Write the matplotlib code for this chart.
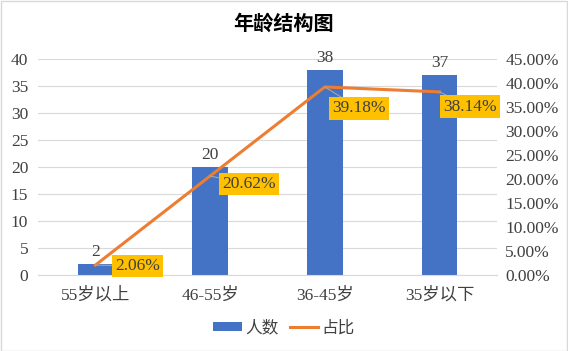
import matplotlib.pyplot as plt
import numpy as np
from matplotlib.ticker import PercentFormatter

categories = ["55岁以上", "46-55岁", "36-45岁", "35岁以下"]
counts = [2, 20, 38, 37]
shares = [2.06, 20.62, 39.18, 38.14]

plt.rcParams['font.family'] = ['Liberation Serif', 'Noto Sans CJK SC']

BLUE = "#4472C4"
ORANGE = "#ED7D31"
GRID = "#D9D9D9"
TXT = "#404040"
FS = 12.5

fig = plt.figure(figsize=(5.68, 3.51), dpi=100)
ax = fig.add_axes([0.0669, 0.2165, 0.808, 0.6154])
ax2 = ax.twinx()

x = np.arange(len(categories))
bars = ax.bar(x, counts, width=0.31, color=BLUE, label="人数", zorder=2)
ax.set_xlim(-0.5, len(categories) - 0.5)
ax.set_ylim(0, 40)
ax.set_yticks(range(0, 41, 5))
ax.grid(axis="y", color=GRID, linewidth=0.8, zorder=0)
ax.set_axisbelow(True)
ax.set_xticks(x)
ax.set_xticklabels(categories)
ax.tick_params(axis="both", length=0, labelsize=FS, colors=TXT, pad=7)
ax.tick_params(axis="x", pad=9)
for s in ["top", "left", "right"]:
    ax.spines[s].set_visible(False)
ax.spines["bottom"].set_color(GRID)

for xi, c in zip(x, counts):
    ax.text(xi, c + 0.7, str(c), ha="center", va="bottom", fontsize=FS, color=TXT)

line, = ax2.plot(x, shares, color=ORANGE, linewidth=2.2, label="占比", zorder=3)
ax2.set_ylim(0, 45)
ax2.set_yticks(range(0, 46, 5))
ax2.yaxis.set_major_formatter(PercentFormatter(decimals=2))
ax2.tick_params(axis="y", length=0, labelsize=FS, colors=TXT, pad=6)
for s in ["top", "left", "right", "bottom"]:
    ax2.spines[s].set_visible(False)

# label offsets (points) from each line point to the text's left edge
offsets = [(14.4, -0.5), (8.4, -5.8), (5.5, -15.5), (2.6, -10.5)]
for xi, v, (dx, dy) in zip(x, shares, offsets):
    ax2.annotate(f"{v:.2f}%", xy=(xi, v), xytext=(dx, dy), textcoords="offset points",
                 ha="left", va="center", fontsize=FS, color=TXT,
                 bbox=dict(boxstyle="square,pad=0.18", fc="#FFC000", ec="none"),
                 arrowprops=dict(arrowstyle="-", color="#A6A6A6", lw=0.8,
                                 shrinkA=0, shrinkB=0),
                 zorder=4)

fig.text(0.5, 0.93, "年龄结构图", ha="center", va="center", fontsize=14.5,
         fontweight="bold", color="black")

fig.legend(handles=[bars, line], labels=["人数", "占比"], loc="center",
           bbox_to_anchor=(0.5, 0.065), ncol=2, frameon=False, fontsize=12,
           handlelength=1.7, handleheight=0.45, handletextpad=0.2,
           columnspacing=0.7, labelcolor=TXT)

fig.patches.append(plt.Rectangle((0.001, 0.001), 0.997, 0.997, transform=fig.transFigure,
                                 fill=False, edgecolor="#D9D9D9", linewidth=1))

fig.savefig("out.png", dpi=100)
